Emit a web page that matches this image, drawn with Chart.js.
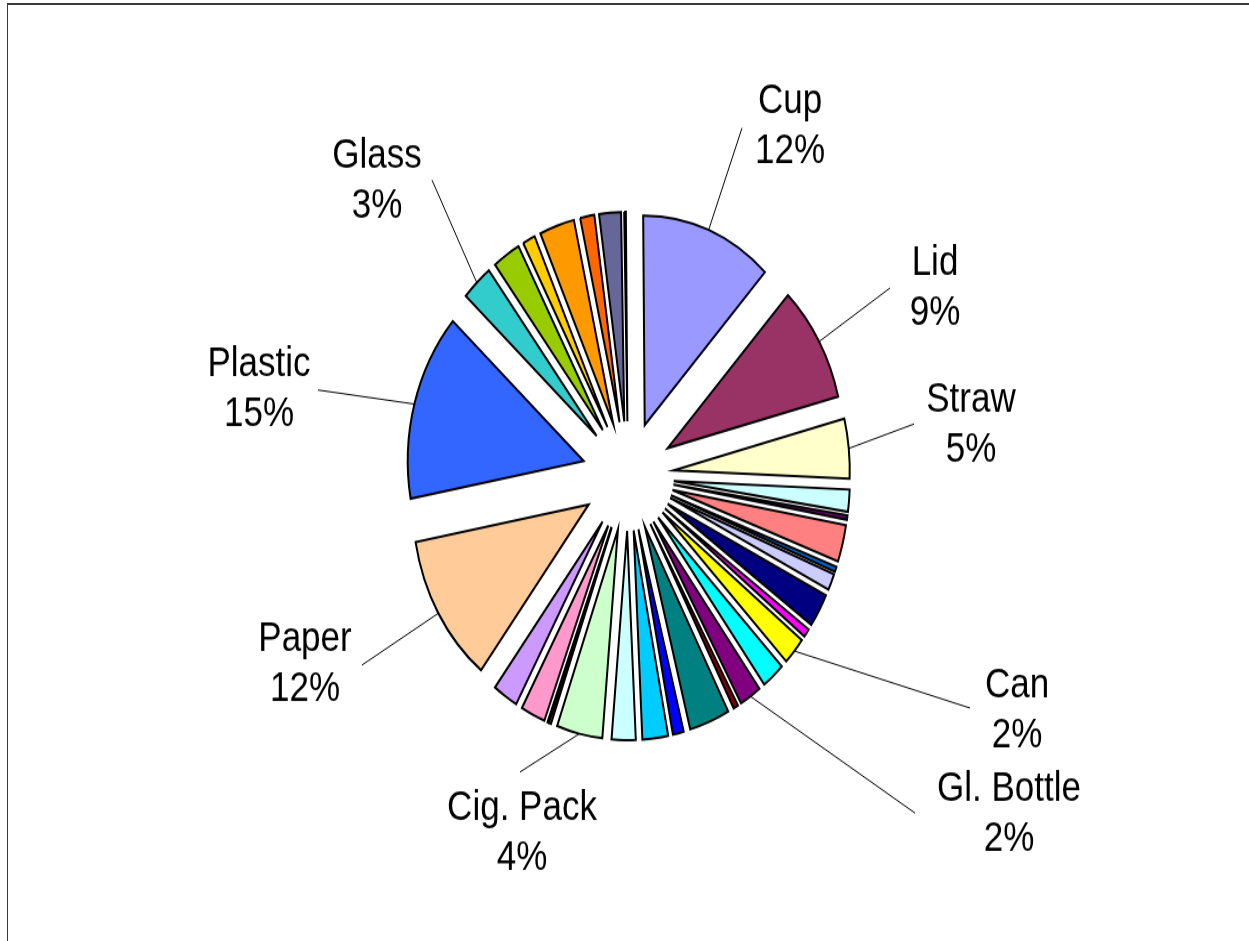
<!DOCTYPE html>
<html>
<head>
<meta charset="utf-8">
<title>Litter composition</title>
<script src="https://cdn.jsdelivr.net/npm/chart.js@4.4.1/dist/chart.umd.min.js"></script>
<style>
	html, body { margin: 0; padding: 0; background: #fff; overflow: hidden; }
	#frame {
		position: absolute; left: 7px; top: 3px; width: 1400px; height: 1100px;
		border-top: 2px solid #3a3a3a; border-left: 1px solid #3a3a3a;
	}
	/* the reference is stretched vertically, so the round pie is drawn flat and scaled */
	#stage {
		position: absolute; left: 0; top: 0; width: 1249px; height: 791px;
		transform: scaleY(1.19); transform-origin: 0 0;
	}
</style>
</head>
<body>
<div id="frame"></div>
<div id="stage"><canvas id="chart" width="1249" height="791"></canvas></div>
<script>
// slices clockwise from 12 o'clock; unnamed ones carry no label in the picture
const categories = [
	"Cup", "Lid", "Straw", "", "", "", "", "", "", "",
	"Can", "", "Gl. Bottle", "", "", "", "", "", "Cig. Pack", "",
	"", "", "", "Paper", "Plastic", "Glass", "", "", "", "",
	"", ""
];
const shares = [
	12.1, 9.05, 4.6, 1.7, 0.35, 2.85, 0.4, 1.25, 2.6, 0.65,
	2.15, 2.1, 2.0, 0.45, 3.7, 1.0, 2.35, 2.2, 4.2, 0.2,
	0.1, 2.25, 2.3, 11.65, 14.5, 2.85, 2.55, 1.15, 3.2, 1.3,
	2.0, 0.15
];
const sliceColors = [
	"#9999FF", "#993366", "#FFFFCC", "#CCFFFF", "#660066", "#FF8080", "#0066CC", "#CCCCFF", "#000080", "#FF00FF",
	"#FFFF00", "#00FFFF", "#800080", "#800000", "#008080", "#0000FF", "#00CCFF", "#CCFFFF", "#CCFFCC", "#FFFF99",
	"#99CCFF", "#FF99CC", "#CC99FF", "#FFCC99", "#3366FF", "#33CCCC", "#99CC00", "#FFCC00", "#FF9900", "#FF6600",
	"#666699", "#969696"
];

const STRETCH = 1.19;
const EXPLODE = 46;

// label block centre and leader end, in picture pixels
const labelPlaces = {
	"Cup": { x: 790, y: 127, lineX: 742, lineY: 128 },
	"Lid": { x: 935, y: 288, lineX: 890, lineY: 288 },
	"Straw": { x: 971, y: 425, lineX: 914, lineY: 424 },
	"Can": { x: 1017, y: 711, lineX: 970, lineY: 708 },
	"Gl. Bottle": { x: 1009, y: 814, lineX: 915, lineY: 813 },
	"Cig. Pack": { x: 522, y: 834, lineX: 520, lineY: 772 },
	"Paper": { x: 305, y: 665, lineX: 362, lineY: 665 },
	"Plastic": { x: 259, y: 390, lineX: 318, lineY: 390 },
	"Glass": { x: 377, y: 181, lineX: 432, lineY: 180 }
};

const explodePlugin = {
	id: "explode",
	beforeDatasetsDraw(chart) {
		const ctx = chart.ctx;
		const arcs = chart.getDatasetMeta(0).data;
		for (const arc of arcs) {
			const mid = (arc.startAngle + arc.endAngle) / 2;
			ctx.save();
			ctx.translate(Math.cos(mid) * EXPLODE, Math.sin(mid) * EXPLODE);
			arc.draw(ctx);
			ctx.restore();
		}
		return false;
	}
};

// afterDraw, since cancelling the dataset draw above also skips afterDatasetsDraw
const labelPlugin = {
	id: "sliceLabels",
	afterDraw(chart) {
		const ctx = chart.ctx;
		const arcs = chart.getDatasetMeta(0).data;
		const total = shares.reduce((a, b) => a + b, 0);
		ctx.save();
		ctx.font = "35px 'Liberation Sans', Arial, sans-serif";
		ctx.fillStyle = "#000";
		ctx.strokeStyle = "#000";
		ctx.lineWidth = 1;
		ctx.textAlign = "center";
		ctx.textBaseline = "middle";
		categories.forEach((name, i) => {
			const place = labelPlaces[name];
			if (!place) {
				return;
			}
			const arc = arcs[i];
			const mid = (arc.startAngle + arc.endAngle) / 2;
			const r = EXPLODE + arc.outerRadius;
			ctx.beginPath();
			ctx.moveTo(arc.x + Math.cos(mid) * r, arc.y + Math.sin(mid) * r);
			ctx.lineTo(place.lineX, place.lineY / STRETCH);
			ctx.stroke();
			const percent = Math.round(shares[i] / total * 100) + "%";
			const y = place.y / STRETCH;
			ctx.fillText(name, place.x, y - 21);
			ctx.fillText(percent, place.x, y + 21);
		});
		ctx.restore();
	}
};

new Chart(document.getElementById("chart"), {
	type: "pie",
	data: {
		labels: categories,
		datasets: [{
			data: shares,
			backgroundColor: sliceColors,
			borderColor: "#000",
			borderWidth: 2,
			borderJoinStyle: "miter"
		}]
	},
	options: {
		responsive: false,
		animation: false,
		devicePixelRatio: 1,
		rotation: -0.5,
		radius: 176,
		layout: {
			padding: { left: 100, right: 93, top: 100, bottom: 91 }
		},
		plugins: {
			legend: { display: false },
			tooltip: { enabled: false }
		},
		events: []
	},
	plugins: [explodePlugin, labelPlugin]
});
</script>
</body>
</html>
